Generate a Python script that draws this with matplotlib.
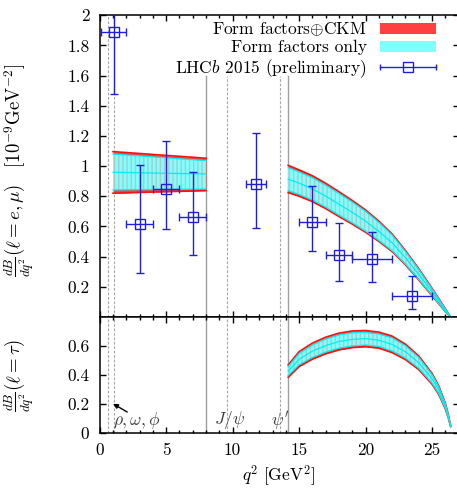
import numpy as np
import matplotlib
matplotlib.use('Agg')
import matplotlib.pyplot as plt
from matplotlib.lines import Line2D
from matplotlib.patches import Patch
from matplotlib.legend_handler import HandlerLine2D

plt.rcParams['font.family'] = ['cmr10']
plt.rcParams['mathtext.fontset'] = 'cm'
plt.rcParams['axes.formatter.use_mathtext'] = True
plt.rcParams['font.size'] = 12.5
plt.rcParams['hatch.linewidth'] = 1.0

# low q^2 band (l = e, mu)
q2_low = [1.0, 4.5, 8.0]
ckm_up_low = [1.096, 1.074, 1.052]
ff_up_low = [1.080, 1.058, 1.036]
mid_low = [0.959, 0.953, 0.948]
ff_lo_low = [0.842, 0.845, 0.848]
ckm_lo_low = [0.820, 0.829, 0.837]

# high q^2 band (l = e, mu)
q2_high = [14.18, 15, 16, 17, 18, 19, 20, 21, 22, 23, 24, 25, 26, 26.4]
ckm_up_high = [1.005, 0.975, 0.936, 0.886, 0.83, 0.772, 0.709, 0.635, 0.55, 0.44, 0.32, 0.19, 0.055, 0.0]
ff_up_high = [0.99, 0.961, 0.923, 0.874, 0.819, 0.762, 0.700, 0.627, 0.543, 0.434, 0.315, 0.186, 0.053, 0.0]
mid_high = [0.913, 0.887, 0.849, 0.801, 0.747, 0.693, 0.635, 0.567, 0.491, 0.392, 0.282, 0.165, 0.045, 0.0]
ff_lo_high = [0.837, 0.812, 0.775, 0.728, 0.675, 0.624, 0.569, 0.507, 0.439, 0.350, 0.249, 0.143, 0.036, 0.0]
ckm_lo_high = [0.824, 0.80, 0.764, 0.718, 0.665, 0.615, 0.561, 0.50, 0.433, 0.345, 0.245, 0.14, 0.035, 0.0]

# tau band
q2_tau = [14.18, 15, 16, 17, 18, 19, 20, 21, 22, 23, 24, 25, 25.5, 26, 26.2, 26.4]
ckm_up_tau = [0.468, 0.56, 0.619, 0.66, 0.688, 0.703, 0.706, 0.695, 0.667, 0.612, 0.53, 0.41, 0.325, 0.205, 0.135, 0.05]
ff_up_tau = [0.456, 0.547, 0.606, 0.647, 0.675, 0.690, 0.693, 0.682, 0.655, 0.601, 0.520, 0.402, 0.319, 0.201, 0.132, 0.049]
mid_tau = [0.425, 0.508, 0.563, 0.602, 0.630, 0.645, 0.650, 0.639, 0.610, 0.559, 0.483, 0.373, 0.296, 0.185, 0.123, 0.046]
ff_lo_tau = [0.395, 0.469, 0.520, 0.557, 0.584, 0.600, 0.606, 0.596, 0.565, 0.516, 0.446, 0.343, 0.272, 0.169, 0.113, 0.043]
ckm_lo_tau = [0.383, 0.457, 0.508, 0.545, 0.572, 0.588, 0.594, 0.584, 0.553, 0.505, 0.436, 0.335, 0.265, 0.165, 0.11, 0.042]

# LHCb 2015 (preliminary)
lhcb_x = np.array([1.05, 3, 5, 7, 11.75, 16, 18, 20.5, 23.5])
lhcb_xerr = np.array([0.95, 1, 1, 1, 0.75, 1, 1, 1.5, 1.5])
lhcb_y = np.array([1.889, 0.616, 0.848, 0.660, 0.881, 0.631, 0.410, 0.382, 0.141])
lhcb_lo = np.array([1.478, 0.293, 0.581, 0.410, 0.590, 0.439, 0.240, 0.231, 0.052])
lhcb_hi = np.array([2.3, 1.009, 1.168, 0.959, 1.219, 0.870, 0.621, 0.561, 0.271])

# resonances and region boundaries
res_dashed = [0.6, 1.04, 9.59, 13.59]
bounds = [8.0, 14.18]

xticks = [0, 5, 10, 15, 20, 25]
xlabels = ['0', '5', '10', '15', '20', '25']
top_yticks = [0.2, 0.4, 0.6, 0.8, 1.0, 1.2, 1.4, 1.6, 1.8, 2.0]
top_ylabels = ['0.2', '0.4', '0.6', '0.8', '1', '1.2', '1.4', '1.6', '1.8', '2']
bot_yticks = [0, 0.2, 0.4, 0.6]
bot_ylabels = ['0', '0.2', '0.4', '0.6']

red_fill = '#ff4040'
red_line = '#ff1010'
cyan_fill = '#80ffff'
cyan_line = '#00f0f0'
blue = '#1f1fd8'
grey = '#a0a0a0'

fig = plt.figure(figsize=(4.57, 4.91), dpi=100)
ax1 = fig.add_axes([0.2182, 0.3546, 0.7853, 0.6143])
ax2 = fig.add_axes([0.2182, 0.1187, 0.7853, 0.2359])


def band(ax, q, cu, fu, m, fl, cl):
    ax.fill_between(q, cl, cu, color=red_fill, lw=0, zorder=2)
    ax.fill_between(q, fl, fu, facecolor=cyan_fill, edgecolor='#a6cccc',
                    hatch='||||', lw=0, zorder=3)
    for c in (cu, cl):
        ax.plot(q, c, color=red_line, lw=1.2, zorder=4)
    for c in (fu, m, fl):
        ax.plot(q, c, color=cyan_line, lw=0.9, zorder=4)


band(ax1, q2_low, ckm_up_low, ff_up_low, mid_low, ff_lo_low, ckm_lo_low)
band(ax1, q2_high, ckm_up_high, ff_up_high, mid_high, ff_lo_high, ckm_lo_high)
band(ax2, q2_tau, ckm_up_tau, ff_up_tau, mid_tau, ff_lo_tau, ckm_lo_tau)

ax1.errorbar(lhcb_x, lhcb_y, yerr=[lhcb_y - lhcb_lo, lhcb_hi - lhcb_y], xerr=lhcb_xerr,
             fmt='s', ms=7.8, mfc='none', mec=blue, mew=1.0, ecolor=blue,
             elinewidth=1.0, capsize=3, capthick=1.0, zorder=5)

for ax in (ax1, ax2):
    for x in res_dashed:
        top = 0.8 if (ax is ax1 and x > 5) else 1.0
        ax.axvline(x, ymax=top, color='#a8a8a8', lw=0.8, ls=(0, (2.5, 1.5)), zorder=1)
    for x in bounds:
        top = 0.8 if ax is ax1 else 1.0
        ax.axvline(x, ymax=top, color=grey, lw=1.0, zorder=1)
    ax.set_xlim(0, 27)
    ax.set_xticks(xticks)
    ax.set_xticks(np.arange(0, 27, 1), minor=True)
    ax.tick_params(which='both', direction='in', top=True, right=True, width=1.0)
    ax.tick_params(which='major', length=4)
    ax.tick_params(which='minor', length=2.2)
    ax.tick_params(axis='y', pad=7.5)
    ax.tick_params(axis='x', pad=7)
    for s in ax.spines.values():
        s.set_linewidth(1.1)

ax1.set_ylim(0, 2)
ax1.set_yticks(top_yticks, top_ylabels)
ax1.set_xticklabels([])
ax2.set_ylim(0, 0.8)
ax2.set_yticks(bot_yticks, bot_ylabels)
ax2.set_xticklabels(xlabels)

# resonance labels
ax2.annotate('', xy=(1.0, 0.2), xytext=(2.07, 0.143),
             arrowprops=dict(arrowstyle='-|>', color='k', lw=1.0, mutation_scale=7,
                             shrinkA=0, shrinkB=0))
ax2.text(1.0, 0.085, r'$\rho,\omega,\phi$', ha='left', va='center', color='#404040')
ax2.text(9.77, 0.085, r'$J/\psi$', ha='center', va='center', color='#404040')
ax2.text(13.6, 0.085, r"$\psi'$", ha='center', va='center', color='#404040')

# legend
cap_line = Line2D([], [], color=blue, lw=1.0, marker='|', ms=5, mew=1.0)
sq = Line2D([], [], color=blue, ls='none', marker='s', ms=7.8, mfc='none', mew=1.0)
handles = [Patch(facecolor=red_fill, edgecolor='none'),
           Patch(facecolor=cyan_fill, edgecolor='none'),
           (cap_line, sq)]
labels = [r'Form factors$\oplus$CKM', 'Form factors only', r'LHC$b$ 2015 (preliminary)']
ax1.legend(handles, labels, loc='upper right', bbox_to_anchor=(0.937, 0.983),
           borderaxespad=0, borderpad=0, frameon=False, markerfirst=False,
           handlelength=3.2, handleheight=0.6, handletextpad=0.8, labelspacing=0.12,
           handler_map={cap_line: HandlerLine2D(numpoints=2, marker_pad=0),
                        sq: HandlerLine2D(numpoints=1)})

fig.text(20 / 457, 1 - 170 / 491,
         r'$\frac{dB}{dq^2}(\ell = e,\mu)\quad[10^{-9}\mathrm{GeV}^{-2}]$',
         rotation=90, ha='center', va='center', fontsize=13.5)
fig.text(20 / 457, 1 - 375 / 491, r'$\frac{dB}{dq^2}(\ell = \tau)$',
         rotation=90, ha='center', va='center', fontsize=13.5)
fig.text(279 / 457, 1 - 476 / 491, r'$q^2\ [\mathrm{GeV}^2]$', ha='center', va='center')

fig.savefig('out.png', dpi=100)
